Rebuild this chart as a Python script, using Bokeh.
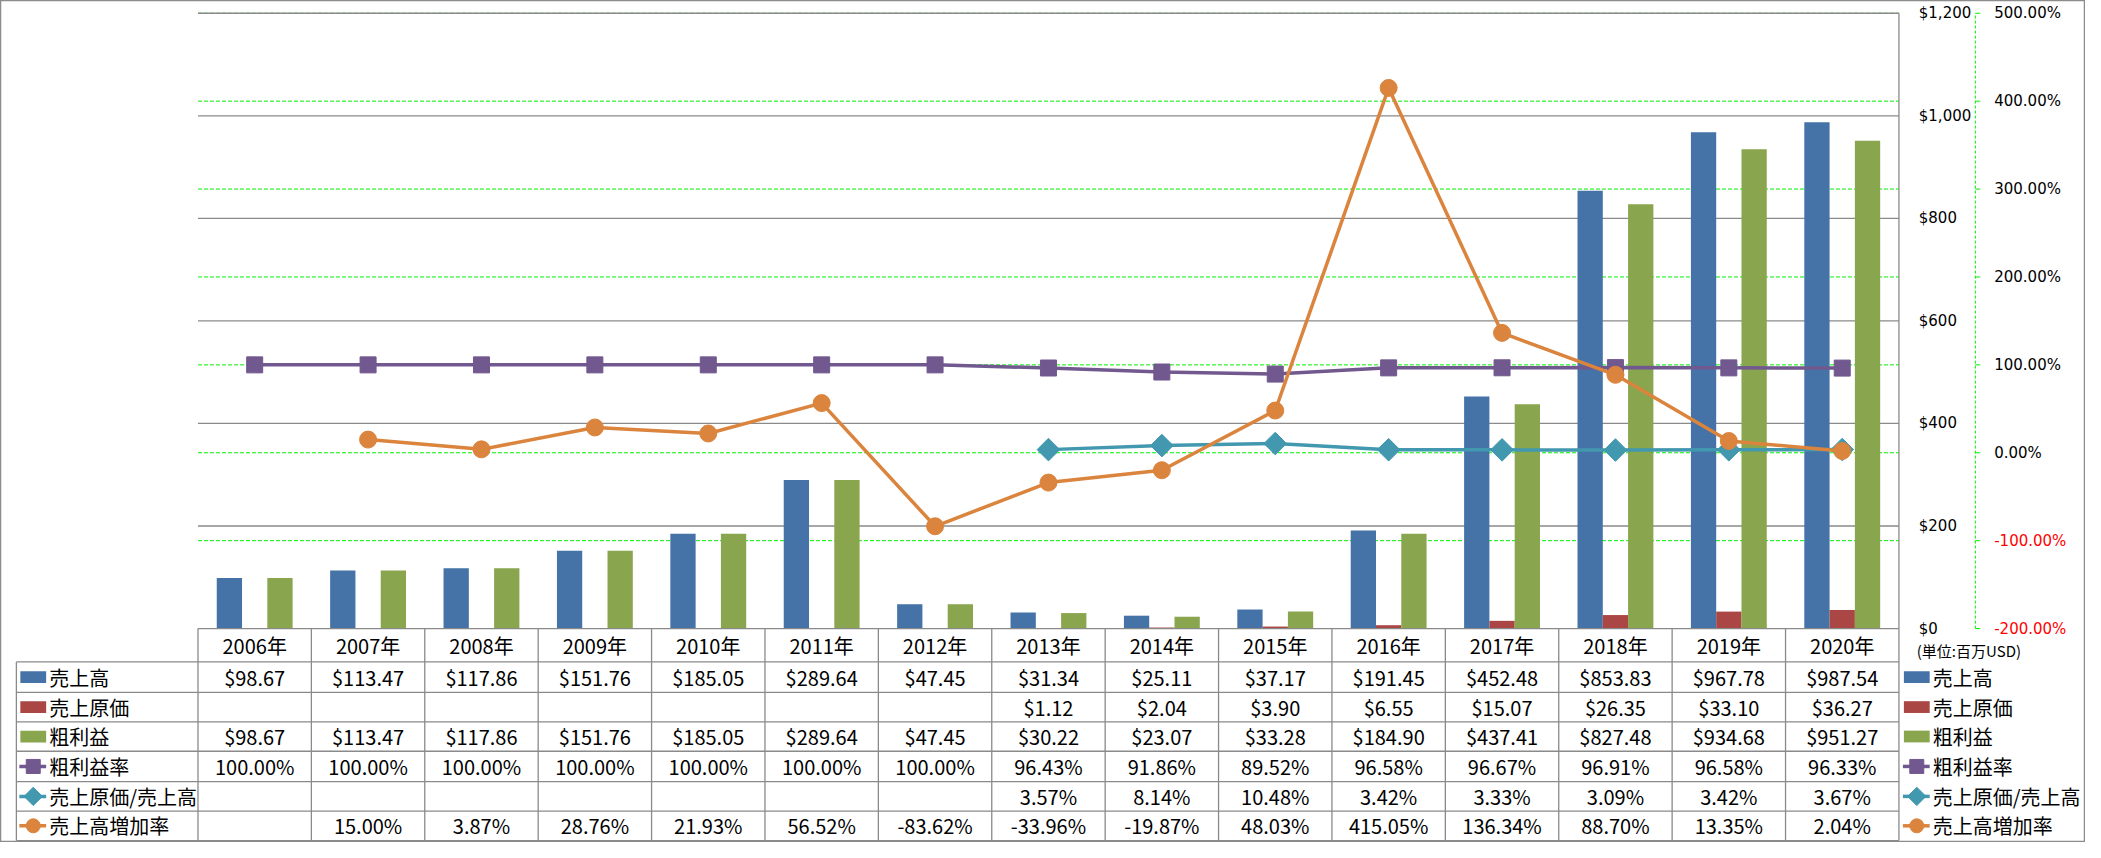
import numpy as np
from bokeh.plotting import figure
from bokeh.models import Range1d
from bokeh.embed import file_html
from bokeh.resources import INLINE
from bokeh.core.properties import value

# ---------------- data ----------------
years = ["2006年", "2007年", "2008年", "2009年", "2010年", "2011年", "2012年", "2013年",
         "2014年", "2015年", "2016年", "2017年", "2018年", "2019年", "2020年"]
sales = [98.67, 113.47, 117.86, 151.76, 185.05, 289.64, 47.45, 31.34, 25.11, 37.17,
         191.45, 452.48, 853.83, 967.78, 987.54]
cogs = [None, None, None, None, None, None, None, 1.12, 2.04, 3.90, 6.55, 15.07, 26.35, 33.10, 36.27]
gross = [98.67, 113.47, 117.86, 151.76, 185.05, 289.64, 47.45, 30.22, 23.07, 33.28,
         184.90, 437.41, 827.48, 934.68, 951.27]
gm_rate = [100.00, 100.00, 100.00, 100.00, 100.00, 100.00, 100.00, 96.43, 91.86, 89.52,
           96.58, 96.67, 96.91, 96.58, 96.33]
cogs_ratio = [None, None, None, None, None, None, None, 3.57, 8.14, 10.48, 3.42, 3.33, 3.09, 3.42, 3.67]
growth = [None, 15.00, 3.87, 28.76, 21.93, 56.52, -83.62, -33.96, -19.87, 48.03,
          415.05, 136.34, 88.70, 13.35, 2.04]

series_names = ["売上高", "売上原価", "粗利益", "粗利益率", "売上原価/売上高", "売上高増加率"]
dollar_ticks = [0, 200, 400, 600, 800, 1000, 1200]
dollar_labels = ["$0", "$200", "$400", "$600", "$800", "$1,000", "$1,200"]
pct_ticks = [-200, -100, 0, 100, 200, 300, 400, 500]
pct_labels = ["-200.00%", "-100.00%", "0.00%", "100.00%", "200.00%", "300.00%", "400.00%", "500.00%"]
unit_label = "(単位:百万USD)"

# ---------------- styling / layout ----------------
BLUE, RED, GREEN = "#4572A7", "#AA4643", "#89A54E"
PURPLE, TEAL, ORANGE = "#71588F", "#4198AF", "#DB843D"
GRID = "#8A8A8A"
LIME = "#00F000"
TFONT = value("Noto Sans CJK JP")
AFONT = value("DejaVu Sans")

REF_W, REF_H = 2101, 858          # layout reference space
W, H = 2085, 842                  # figure size
PLOT_L, PLOT_R = 199, 1913
Y0, YTOP = 640, 13
ROW_EDGES = [640, 674, 705, 735, 765, 796, 826, 856]
TABLE_L = 16

n = len(years)
step = (PLOT_R - PLOT_L) / n


def cat_of(rx):
    return (rx - PLOT_L) / step - 0.5


def f(vals):
    return np.array([np.nan if v is None else v for v in vals], dtype=float)


dpp = 1200 / (Y0 - YTOP)
ppp = 700 / (Y0 - YTOP)

p = figure(width=W, height=H, output_backend="svg", toolbar_location=None,
           x_range=Range1d(cat_of(0), cat_of(REF_W)),
           y_range=Range1d((Y0 - REF_H) * dpp, Y0 * dpp),
           x_axis_location=None, y_axis_location=None, min_border=0)
p.min_border_left = p.min_border_right = p.min_border_top = p.min_border_bottom = 0
p.grid.visible = False
p.outline_line_color = "#8C8C8C"
p.outline_line_width = 1.5
p.background_fill_color = "white"
p.border_fill_color = "white"
p.extra_x_ranges = {"px": Range1d(0, REF_W)}
p.extra_y_ranges = {"pct": Range1d(-200 + (Y0 - REF_H) * ppp, -200 + Y0 * ppp),
                    "py": Range1d(REF_H, 0)}

x = np.arange(n, dtype=float)

# gridlines
gt = pct_ticks[1:]
p.segment(x0=[-0.5] * len(gt), x1=[n - 0.5] * len(gt), y0=gt, y1=gt, y_range_name="pct",
          line_color=LIME, line_width=1, line_dash="4 2")
dt = dollar_ticks[1:]
p.segment(x0=[-0.5] * len(dt), x1=[n - 0.5] * len(dt), y0=dt, y1=dt,
          line_color=GRID, line_width=1.3)
p.segment(x0=[n - 0.5], x1=[n - 0.5], y0=[0], y1=[1200], line_color=GRID, line_width=1.3)

# bars
bw = 0.223
p.vbar(x=x - bw, top=f(sales), width=bw, fill_color=BLUE, line_color=None)
p.vbar(x=x, top=f(cogs), width=bw, fill_color=RED, line_color=None)
p.vbar(x=x + bw, top=f(gross), width=bw, fill_color=GREEN, line_color=None)

# lines on secondary axis
LW = 3.5
p.line(x, f(gm_rate), y_range_name="pct", line_color=PURPLE, line_width=LW)
p.scatter(x, f(gm_rate), y_range_name="pct", marker="square", size=16,
          fill_color=PURPLE, line_color=PURPLE)
p.line(x, f(cogs_ratio), y_range_name="pct", line_color=TEAL, line_width=LW)
p.scatter(x, f(cogs_ratio), y_range_name="pct", marker="square", angle=np.pi / 4, size=16,
          fill_color=TEAL, line_color=TEAL)
p.line(x, f(growth), y_range_name="pct", line_color=ORANGE, line_width=LW)
p.scatter(x, f(growth), y_range_name="pct", marker="circle", size=17,
          fill_color=ORANGE, line_color=ORANGE)

# right-hand axis labels
p.text(x=[1933] * len(dollar_ticks), y=dollar_ticks, text=dollar_labels, x_range_name="px",
       text_font=AFONT, text_font_size="15px", text_align="left", text_baseline="middle",
       text_color="black")
p.segment(x0=[1990], x1=[1990], y0=[-200], y1=[500], x_range_name="px", y_range_name="pct",
          line_color=LIME, line_width=1, line_dash="3 2")
p.segment(x0=[1990] * len(pct_ticks), x1=[1995] * len(pct_ticks), y0=pct_ticks, y1=pct_ticks,
          x_range_name="px", y_range_name="pct", line_color=LIME, line_width=1)
p.text(x=[2009] * len(pct_ticks), y=pct_ticks, text=pct_labels, x_range_name="px",
       y_range_name="pct", text_font=AFONT, text_font_size="15px", text_align="left",
       text_baseline="middle", text_color=["#FF0000" if t < 0 else "black" for t in pct_ticks])
p.text(x=[1931], y=[662], text=[unit_label], x_range_name="px", y_range_name="py",
       text_font=TFONT, text_font_size="15px", text_align="left", text_baseline="middle",
       text_color="black")

# data table grid
edges = np.arange(n + 1) - 0.5
p.segment(x0=edges, x1=edges, y0=[ROW_EDGES[0]] * (n + 1), y1=[ROW_EDGES[-1]] * (n + 1),
          y_range_name="py", line_color=GRID, line_width=1.3)
hx0 = [-0.5] + [cat_of(TABLE_L)] * (len(ROW_EDGES) - 1)
p.segment(x0=hx0, x1=[n - 0.5] * len(ROW_EDGES), y0=ROW_EDGES, y1=ROW_EDGES,
          y_range_name="py", line_color=GRID, line_width=1.3)
p.segment(x0=[cat_of(TABLE_L)], x1=[cat_of(TABLE_L)], y0=[ROW_EDGES[1]], y1=[ROW_EDGES[-1]],
          y_range_name="py", line_color=GRID, line_width=1.3)

centers = [(ROW_EDGES[i] + ROW_EDGES[i + 1]) / 2 for i in range(len(ROW_EDGES) - 1)]
TS = "20px"
p.text(x=x, y=[centers[0]] * n, text=years, y_range_name="py", text_font=TFONT,
       text_font_size=TS, text_align="center", text_baseline="middle", text_color="black")


def money(vals):
    return ["" if v is None else f"${v:,.2f}" for v in vals]


def pct(vals):
    return ["" if v is None else f"{v:.2f}%" for v in vals]


rows = [money(sales), money(cogs), money(gross), pct(gm_rate), pct(cogs_ratio), pct(growth)]
for r, txt in enumerate(rows):
    p.text(x=x, y=[centers[r + 1]] * n, text=txt, y_range_name="py", text_font=TFONT,
           text_font_size=TS, text_align="center", text_baseline="middle", text_color="black")

# legend keys (left in table, and right legend)
colors = [BLUE, RED, GREEN, PURPLE, TEAL, ORANGE]
markers = [None, None, None, ("square", 0.0, 14), ("square", np.pi / 4, 13), ("circle", 0.0, 14)]
for kx0, kx1, tx in [(20, 46, 49), (1918, 1944, 1947)]:
    for i, (c, m) in enumerate(zip(colors, markers)):
        cy = centers[i + 1]
        if m is None:
            p.quad(left=[kx0], right=[kx1], top=[cy - 6], bottom=[cy + 6], x_range_name="px",
                   y_range_name="py", fill_color=c, line_color=None)
        else:
            p.segment(x0=[kx0 - 1], x1=[kx1], y0=[cy], y1=[cy], x_range_name="px",
                      y_range_name="py", line_color=c, line_width=LW)
            p.scatter(x=[(kx0 + kx1) / 2], y=[cy], marker=m[0], angle=m[1], size=m[2],
                      x_range_name="px", y_range_name="py", fill_color=c, line_color=c)
    p.text(x=[tx] * len(series_names), y=centers[1:], text=series_names, x_range_name="px",
           y_range_name="py", text_font=TFONT, text_font_size=TS, text_align="left",
           text_baseline="middle", text_color="black")

open("out.html", "w").write(file_html(p, INLINE))
